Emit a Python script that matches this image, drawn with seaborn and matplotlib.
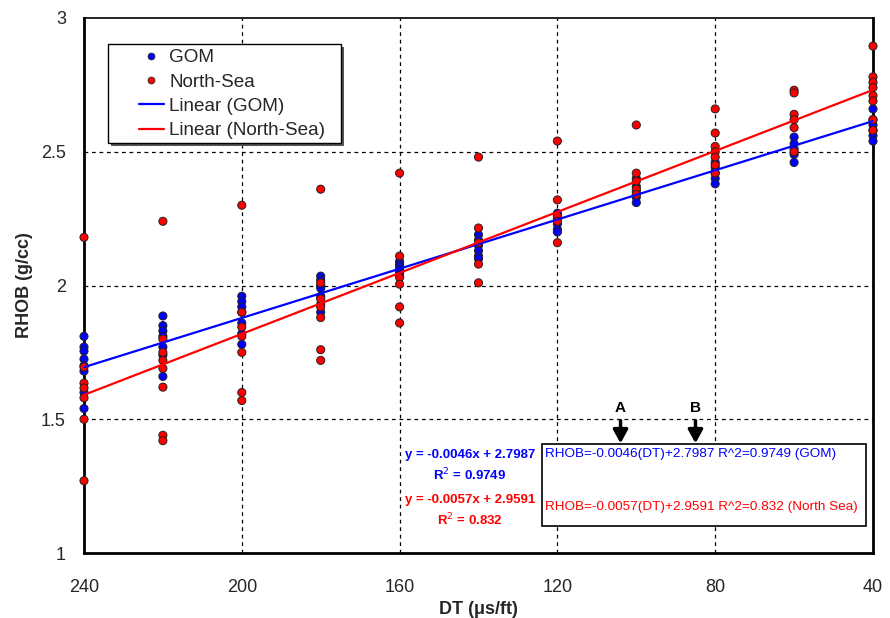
import numpy as np
import pandas as pd
import matplotlib
matplotlib.use("Agg")
import matplotlib.pyplot as plt
import seaborn as sns
from matplotlib.lines import Line2D

# ---- data ----
gom_dt = ([240]*8 + [220]*7 + [200]*7 + [180]*7 + [160]*6 + [140]*6 +
          [120]*5 + [100]*5 + [80]*5 + [60]*5 + [40]*6)
gom_rhob = [1.81, 1.77, 1.755, 1.725, 1.70, 1.68, 1.60, 1.54,
            1.886, 1.85, 1.83, 1.81, 1.77, 1.74, 1.66,
            1.96, 1.94, 1.92, 1.90, 1.86, 1.82, 1.78,
            2.035, 2.02, 2.00, 1.99, 1.96, 1.93, 1.90,
            2.09, 2.08, 2.07, 2.06, 2.05, 2.04,
            2.19, 2.17, 2.15, 2.13, 2.11, 2.10,
            2.27, 2.25, 2.23, 2.21, 2.20,
            2.40, 2.37, 2.35, 2.33, 2.31,
            2.46, 2.44, 2.42, 2.40, 2.38,
            2.555, 2.53, 2.51, 2.49, 2.46,
            2.66, 2.62, 2.60, 2.58, 2.56, 2.54]

ns_dt = ([240]*7 + [220]*8 + [200]*7 + [180]*7 + [160]*6 + [140]*5 +
         [120]*5 + [100]*5 + [80]*7 + [60]*6 + [40]*8)
ns_rhob = [2.18, 1.695, 1.635, 1.617, 1.58, 1.50, 1.27,
           2.24, 1.80, 1.75, 1.72, 1.69, 1.62, 1.44, 1.42,
           2.30, 1.90, 1.845, 1.81, 1.75, 1.60, 1.57,
           2.36, 2.01, 1.95, 1.92, 1.88, 1.76, 1.72,
           2.42, 2.11, 2.03, 2.005, 1.92, 1.86,
           2.48, 2.215, 2.16, 2.08, 2.01,
           2.54, 2.32, 2.26, 2.24, 2.16,
           2.60, 2.42, 2.39, 2.36, 2.34,
           2.66, 2.57, 2.52, 2.50, 2.48, 2.45, 2.42,
           2.73, 2.72, 2.64, 2.62, 2.59, 2.50,
           2.895, 2.78, 2.76, 2.74, 2.71, 2.69, 2.62, 2.58]

series_names = ["GOM", "North-Sea"]
fit_slope = [-0.0046, -0.0057]
fit_intercept = [2.7987, 2.9591]
fit_r2 = ["0.9749", "0.832"]
fit_x = [240, 40]

x_ticks = [240, 200, 160, 120, 80, 40]
y_ticks = [1, 1.5, 2, 2.5, 3]
y_tick_labels = ["1", "1.5", "2", "2.5", "3"]

colors = {"GOM": "#0000ff", "North-Sea": "#ff0000"}

df = pd.DataFrame({
    "DT": gom_dt + ns_dt,
    "RHOB": gom_rhob + ns_rhob,
    "Set": ["GOM"]*len(gom_dt) + ["North-Sea"]*len(ns_dt),
})

sns.set_style("white")
plt.rcParams['font.family'] = ['Liberation Sans', 'DejaVu Sans']

W, H = 890, 618
fig = plt.figure(figsize=(8.9, 6.18), dpi=100)
ax = fig.add_axes([84/W, 1-553/H, (873-84)/W, (553-18)/H])

def ax_px(px, py):
    """pixel position of the figure -> axes fraction"""
    return ((px-84)/789, (553-py)/535)

# grid
for yv in [1.5, 2, 2.5]:
    ax.axhline(yv, color="black", lw=0.9, ls=(0, (3, 3)), zorder=0)
for xv in [200, 160, 120, 80]:
    ax.axvline(xv, color="black", lw=0.9, ls=(0, (3, 3)), zorder=0)

sns.scatterplot(data=df, x="DT", y="RHOB", hue="Set", palette=colors,
                s=34, edgecolor="#222222", linewidth=0.7, legend=False,
                ax=ax, zorder=3, clip_on=False)

for name, m, b in zip(series_names, fit_slope, fit_intercept):
    xs = np.array(fit_x, dtype=float)
    ax.plot(xs, m*xs + b, color=colors[name], lw=1.6, zorder=4)

ax.set_xlim(240, 40)
ax.set_ylim(1, 3)
ax.set_xticks(x_ticks)
ax.set_xticklabels([str(t) for t in x_ticks])
ax.set_yticks(y_ticks)
ax.set_yticklabels(y_tick_labels)
ax.tick_params(axis="both", labelsize=13, direction="out", length=5,
               width=1.2, color="black")
ax.tick_params(axis="x", pad=14)
ax.tick_params(axis="y", pad=8)
ax.set_xlabel("DT (\u03bcs/ft)", fontsize=13, fontweight="bold", labelpad=3)
ax.set_ylabel("RHOB (g/cc)", fontsize=13, fontweight="bold", labelpad=6)

for s in ["left", "bottom", "right"]:
    ax.spines[s].set_linewidth(2.0)
    ax.spines[s].set_color("black")
ax.spines["top"].set_linewidth(1.2)
ax.spines["top"].set_color("black")

# legend frame with shadow (drawn separately for Excel-like padding)
lx0, ly0 = ax_px(108, 143)
lx1, ly1 = ax_px(341, 44)
sx, sy = 3/789, 3/535
ax.add_patch(plt.Rectangle((lx0+sx, ly0-sy), lx1-lx0, ly1-ly0, transform=ax.transAxes,
                           facecolor="#555555", edgecolor="none", zorder=6))
ax.add_patch(plt.Rectangle((lx0, ly0), lx1-lx0, ly1-ly0, transform=ax.transAxes,
                           facecolor="white", edgecolor="black", lw=1.0, zorder=7))

handles = [
    Line2D([], [], marker="o", ls="", color=colors["GOM"], markersize=5,
           markeredgecolor="#222222", markeredgewidth=0.5),
    Line2D([], [], marker="o", ls="", color=colors["North-Sea"], markersize=5,
           markeredgecolor="#222222", markeredgewidth=0.5),
    Line2D([], [], color=colors["GOM"], lw=1.6),
    Line2D([], [], color=colors["North-Sea"], lw=1.6),
]
labels = ["GOM", "North-Sea", "Linear (GOM)", "Linear (North-Sea)"]
leg = ax.legend(handles, labels, loc="upper left",
                bbox_to_anchor=ax_px(139, 49), fontsize=13.6,
                frameon=False, handlelength=1.3, handletextpad=0.3,
                borderpad=0, labelspacing=0.38, borderaxespad=0)
leg.set_zorder(8)

# trendline equations (Excel-style)
ex, ey = ax_px(535, 449)
ax.text(ex, ey, f"y = {fit_slope[0]}x + {fit_intercept[0]}\nR$^2$ = {fit_r2[0]}",
        transform=ax.transAxes, ha="right", va="top", fontsize=9.5,
        fontweight="bold", color=colors["GOM"], multialignment="center",
        linespacing=1.4)
ex, ey = ax_px(535, 494)
ax.text(ex, ey, f"y = {fit_slope[1]}x + {fit_intercept[1]}\nR$^2$ = {fit_r2[1]}",
        transform=ax.transAxes, ha="right", va="top", fontsize=9.5,
        fontweight="bold", color=colors["North-Sea"], multialignment="center",
        linespacing=1.4)

# boxed equations
bx0, by0 = ax_px(542, 526)
bx1, by1 = ax_px(866, 444)
ax.add_patch(plt.Rectangle((bx0, by0), bx1-bx0, by1-by0, transform=ax.transAxes,
                           fill=True, facecolor="white", edgecolor="black",
                           lw=1.2, zorder=5))
tx, ty = ax_px(545, 454)
ax.text(tx, ty,
        f"RHOB={fit_slope[0]}(DT)+{fit_intercept[0]} R^2={fit_r2[0]} (GOM)",
        transform=ax.transAxes, ha="left", va="center", fontsize=9.7,
        color=colors["GOM"], zorder=6)
tx, ty = ax_px(545, 507)
ax.text(tx, ty,
        f"RHOB={fit_slope[1]}(DT)+{fit_intercept[1]} R^2={fit_r2[1]} (North Sea)",
        transform=ax.transAxes, ha="left", va="center", fontsize=9.7,
        color=colors["North-Sea"], zorder=6)

# arrows A and B
for lab, xv in [("A", 104), ("B", 85)]:
    ax.annotate("", xy=(xv, 1.41), xytext=(xv, 1.495),
                arrowprops=dict(arrowstyle="-|>,head_width=0.22,head_length=0.4",
                                mutation_scale=20, shrinkA=0, shrinkB=0,
                                color="black", lw=2.5), zorder=6)
    ax.text(xv, 1.515, lab, ha="center", va="bottom", fontsize=11,
            fontweight="bold", color="black")

fig.savefig("out.png", dpi=100)
